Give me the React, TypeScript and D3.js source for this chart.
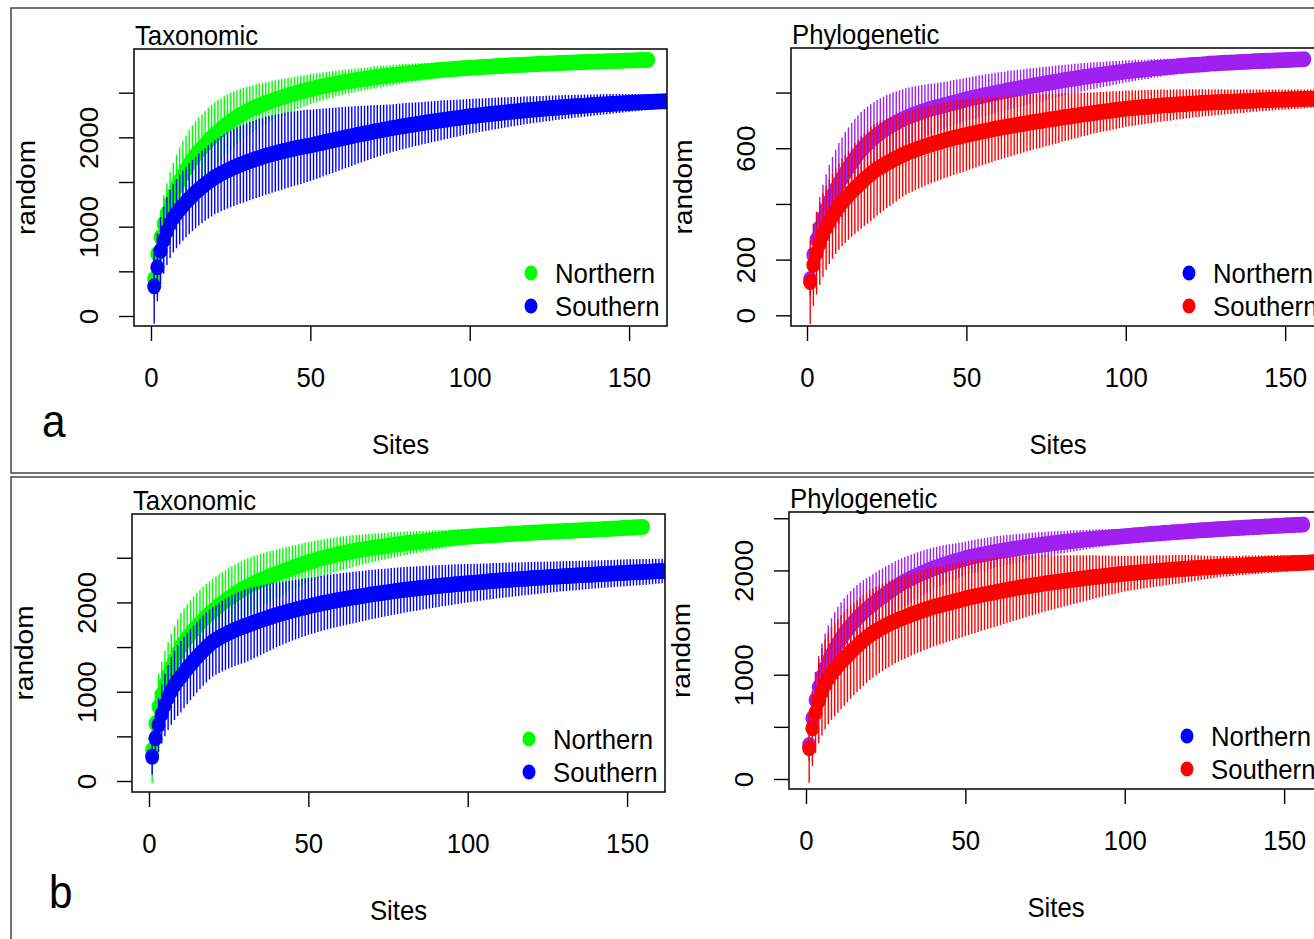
import React, { useEffect, useRef } from 'react';
import * as d3 from 'd3';

// mean richness by number of sites, and the half length of each bar (2 sd)
// panel a, taxonomic
const taxNorthA = [
  414, 694, 881, 1030, 1150, 1260, 1355, 1440, 1515, 1580,
  1642, 1700, 1752, 1800, 1842, 1880, 1921, 1960, 1996, 2030,
  2062, 2093, 2123, 2152, 2180, 2204, 2228, 2250, 2271, 2290,
  2307, 2324, 2340, 2355, 2370, 2384, 2397, 2410, 2423, 2435,
  2446, 2457, 2468, 2479, 2490, 2500, 2510, 2520, 2530, 2540,
  2548, 2556, 2564, 2572, 2580, 2587, 2594, 2601, 2608, 2615,
  2621, 2627, 2633, 2638, 2643, 2648, 2653, 2658, 2664, 2670,
  2675, 2680, 2684, 2689, 2693, 2698, 2702, 2706, 2711, 2715,
  2719, 2722, 2726, 2729, 2733, 2736, 2740, 2743, 2747, 2750,
  2753, 2756, 2759, 2762, 2765, 2768, 2770, 2773, 2775, 2778,
  2780, 2782, 2785, 2787, 2789, 2791, 2793, 2795, 2798, 2800,
  2802, 2804, 2806, 2808, 2810, 2811, 2813, 2815, 2816, 2818,
  2820, 2822, 2823, 2825, 2827, 2828, 2830, 2832, 2833, 2835,
  2836, 2838, 2839, 2840, 2842, 2843, 2844, 2845, 2847, 2848,
  2849, 2850, 2852, 2853, 2854, 2855, 2856, 2857, 2859, 2860,
  2861, 2862, 2863, 2865, 2866, 2867,
];
const taxNorthACi = [
  230, 270, 300, 320, 335, 348, 358, 366, 373, 378,
  380, 381, 381, 380, 379, 377, 374, 371, 368, 364,
  355, 346, 337, 328, 320, 311, 302, 293, 284, 275,
  268, 261, 254, 247, 240, 234, 228, 223, 217, 212,
  207, 202, 197, 192, 188, 184, 180, 176, 172, 168,
  165, 162, 159, 156, 153, 150, 148, 145, 143, 140,
  138, 136, 134, 132, 130, 129, 127, 125, 124, 122,
  121, 119, 118, 116, 115, 114, 112, 111, 110, 108,
  106, 104, 102, 101, 99, 97, 95, 94, 92, 90,
  88, 86, 84, 83, 81, 79, 77, 76, 74, 72,
  71, 70, 68, 67, 66, 65, 64, 62, 61, 60,
  59, 58, 56, 55, 54, 53, 52, 50, 49, 48,
  47, 46, 44, 43, 42, 41, 40, 38, 37, 36,
  35, 34, 32, 31, 30, 29, 28, 26, 25, 24,
  23, 21, 20, 18, 17, 16, 14, 13, 11, 10,
  8, 7, 5, 3, 2, 0,
];
const taxSouthA = [
  332, 545, 731, 850, 950, 1030, 1095, 1145, 1192, 1235,
  1275, 1313, 1349, 1383, 1415, 1445, 1474, 1501, 1527, 1553,
  1573, 1593, 1612, 1630, 1647, 1663, 1679, 1694, 1707, 1720,
  1733, 1746, 1758, 1770, 1782, 1793, 1803, 1813, 1823, 1832,
  1841, 1850, 1859, 1867, 1875, 1883, 1890, 1897, 1904, 1910,
  1918, 1926, 1934, 1942, 1950, 1958, 1966, 1974, 1982, 1990,
  1998, 2006, 2013, 2021, 2028, 2036, 2043, 2050, 2058, 2065,
  2072, 2078, 2085, 2092, 2098, 2105, 2111, 2118, 2124, 2130,
  2136, 2141, 2147, 2152, 2158, 2163, 2169, 2174, 2180, 2185,
  2190, 2195, 2200, 2205, 2210, 2215, 2220, 2225, 2230, 2235,
  2239, 2243, 2247, 2251, 2255, 2259, 2263, 2267, 2271, 2275,
  2279, 2282, 2286, 2289, 2293, 2296, 2300, 2303, 2307, 2310,
  2313, 2316, 2319, 2322, 2325, 2328, 2331, 2334, 2337, 2340,
  2342, 2345, 2347, 2350, 2352, 2355, 2357, 2360, 2362, 2365,
  2367, 2369, 2371, 2373, 2375, 2377, 2379, 2381, 2383, 2385,
  2387, 2389, 2390, 2392, 2394, 2395, 2397, 2399, 2400, 2402, 2403, 2405,
];
const taxSouthACi = [
  420, 380, 375, 376, 378, 381, 384, 387, 390, 392,
  394, 396, 399, 401, 403, 406, 408, 410, 413, 415,
  418, 421, 424, 427, 430, 432, 434, 436, 437, 438,
  438, 438, 438, 438, 438, 437, 436, 434, 432, 430,
  428, 425, 423, 421, 418, 415, 411, 408, 404, 400,
  395, 390, 385, 380, 375, 370, 365, 360, 355, 350,
  344, 339, 333, 328, 322, 317, 311, 306, 300, 295,
  290, 285, 280, 275, 270, 266, 263, 260, 257, 254,
  251, 248, 245, 242, 239, 236, 233, 230, 228, 225,
  222, 219, 216, 213, 210, 207, 204, 201, 198, 195,
  193, 191, 188, 186, 184, 182, 179, 177, 175, 173,
  170, 168, 166, 163, 161, 159, 157, 155, 152, 150,
  148, 147, 145, 143, 142, 140, 138, 137, 135, 134,
  132, 130, 129, 127, 126, 124, 122, 121, 119, 118,
  116, 114, 113, 111, 109, 107, 106, 104, 102, 100,
  98, 97, 95, 93, 92, 90, 88, 87, 85, 83, 82, 80,
];

// panel a, phylogenetic
const phyNorthA = [
  130, 217, 272, 314, 349, 380, 407, 431, 453, 474,
  493, 512, 530, 547, 563, 578, 592, 605, 617, 628,
  638, 647, 656, 664, 672, 679, 686, 692, 698, 704,
  709, 714, 719, 723, 727, 731, 735, 739, 742, 745,
  748, 751, 754, 757, 760, 763, 766, 769, 772, 775,
  778, 781, 783, 786, 788, 791, 793, 796, 798, 801,
  803, 805, 808, 810, 812, 814, 816, 818, 821, 823,
  825, 827, 829, 831, 833, 835, 837, 839, 841, 843,
  845, 847, 849, 850, 852, 854, 856, 857, 859, 861,
  862, 864, 865, 867, 868, 870, 871, 873, 874, 876,
  877, 878, 880, 881, 882, 883, 884, 886, 887, 888,
  889, 890, 891, 892, 893, 894, 895, 896, 897, 898,
  899, 900, 900, 901, 902, 903, 904, 904, 905, 906,
  907, 907, 908, 908, 909, 910, 910, 911, 911, 912,
  912, 913, 913, 914, 914, 915, 915, 916, 916, 917,
  917, 918, 918, 919, 919, 920,
];
const phyNorthACi = [
  60, 85, 100, 112, 120, 127, 133, 138, 142, 145,
  146, 146, 145, 144, 142, 140, 138, 136, 133, 130,
  128, 126, 123, 121, 119, 117, 115, 112, 110, 108,
  106, 104, 102, 100, 98, 96, 94, 92, 90, 88,
  87, 86, 85, 84, 83, 82, 81, 80, 79, 78,
  77, 77, 76, 76, 75, 75, 74, 73, 73, 72,
  71, 70, 70, 69, 68, 67, 66, 66, 65, 64,
  63, 62, 62, 61, 60, 59, 58, 58, 57, 56,
  55, 54, 53, 53, 52, 51, 50, 49, 48, 48,
  47, 46, 45, 45, 44, 43, 42, 41, 41, 40,
  39, 38, 38, 37, 36, 35, 35, 34, 33, 32,
  32, 31, 30, 30, 29, 28, 27, 27, 26, 25,
  25, 24, 23, 23, 22, 21, 20, 20, 19, 18,
  18, 17, 16, 15, 15, 14, 13, 13, 12, 11,
  10, 10, 9, 8, 7, 7, 6, 5, 4, 3,
  3, 2, 2, 1, 1, 0,
];
const phySouthA = [
  119, 181, 223, 258, 288, 314, 336, 356, 374, 390,
  405, 418, 431, 443, 455, 466, 477, 488, 498, 508,
  517, 525, 532, 539, 546, 552, 558, 564, 570, 576,
  581, 586, 590, 595, 599, 603, 607, 611, 614, 618,
  621, 624, 628, 631, 634, 637, 640, 642, 645, 648,
  650, 653, 655, 658, 660, 662, 665, 667, 670, 672,
  674, 676, 678, 680, 682, 684, 686, 688, 690, 692,
  694, 696, 697, 699, 701, 703, 704, 706, 708, 710,
  712, 713, 715, 717, 718, 720, 722, 723, 725, 727,
  728, 730, 731, 733, 734, 736, 737, 739, 740, 742,
  743, 744, 745, 746, 747, 748, 749, 750, 751, 752,
  753, 754, 754, 755, 756, 757, 758, 758, 759, 760,
  761, 761, 762, 763, 763, 764, 764, 765, 765, 766,
  766, 767, 767, 768, 768, 769, 769, 770, 770, 771,
  771, 772, 772, 772, 773, 773, 774, 774, 774, 775,
  775, 776, 776, 776, 777, 777, 778, 778, 778, 779,
];
const phySouthACi = [
  150, 148, 148, 149, 150, 151, 152, 153, 154, 155,
  157, 158, 160, 161, 163, 164, 166, 167, 169, 170,
  169, 167, 165, 163, 161, 159, 157, 155, 152, 150,
  148, 147, 146, 145, 144, 143, 142, 141, 140, 139,
  138, 137, 136, 135, 134, 133, 132, 131, 130, 129,
  127, 126, 124, 123, 121, 120, 118, 117, 115, 114,
  113, 111, 110, 109, 107, 106, 105, 103, 102, 101,
  99, 98, 97, 95, 94, 93, 91, 90, 89, 87,
  86, 85, 83, 82, 81, 79, 78, 77, 75, 74,
  73, 72, 71, 71, 70, 69, 68, 67, 66, 65,
  64, 64, 63, 62, 62, 61, 60, 60, 59, 58,
  58, 57, 56, 56, 55, 54, 54, 53, 52, 52,
  51, 50, 50, 49, 48, 48, 47, 47, 46, 46,
  45, 44, 44, 43, 43, 42, 42, 41, 41, 40,
  40, 39, 39, 38, 38, 38, 37, 37, 36, 36,
  36, 35, 35, 35, 34, 34, 34, 33, 33, 33,
];

// panel b, taxonomic
const taxNorthB = [
  347, 646, 832, 970, 1085, 1185, 1275, 1357, 1433, 1504,
  1553, 1600, 1645, 1688, 1729, 1768, 1805, 1840, 1873, 1904,
  1934, 1963, 1991, 2018, 2044, 2069, 2093, 2116, 2138, 2160,
  2179, 2197, 2214, 2231, 2247, 2263, 2278, 2293, 2307, 2320,
  2334, 2348, 2361, 2374, 2387, 2400, 2413, 2426, 2438, 2450,
  2461, 2471, 2481, 2491, 2501, 2510, 2519, 2528, 2537, 2545,
  2553, 2560, 2567, 2574, 2581, 2587, 2593, 2599, 2605, 2610,
  2615, 2620, 2625, 2630, 2635, 2640, 2645, 2650, 2655, 2660,
  2664, 2668, 2672, 2676, 2680, 2684, 2688, 2692, 2696, 2700,
  2704, 2708, 2712, 2716, 2720, 2723, 2726, 2729, 2732, 2735,
  2737, 2740, 2742, 2745, 2747, 2749, 2752, 2754, 2756, 2758,
  2760, 2762, 2765, 2767, 2769, 2771, 2773, 2776, 2778, 2780,
  2782, 2784, 2786, 2787, 2789, 2791, 2793, 2794, 2796, 2798,
  2800, 2801, 2803, 2805, 2806, 2808, 2810, 2811, 2813, 2815,
  2817, 2819, 2821, 2823, 2825, 2827, 2829, 2831, 2833, 2835,
  2837, 2839, 2841, 2843, 2845,
];
const taxNorthBCi = [
  370, 365, 365, 368, 370, 372, 374, 376, 378, 380,
  380, 379, 378, 377, 375, 373, 370, 367, 364, 360,
  356, 352, 348, 344, 340, 336, 332, 328, 324, 320,
  315, 310, 306, 301, 296, 291, 287, 282, 277, 272,
  268, 263, 258, 253, 249, 244, 239, 234, 230, 225,
  221, 218, 214, 211, 207, 204, 200, 197, 193, 190,
  187, 184, 181, 178, 175, 172, 169, 166, 163, 160,
  157, 155, 152, 150, 147, 145, 142, 140, 137, 135,
  132, 129, 127, 124, 121, 118, 115, 113, 110, 107,
  105, 102, 100, 98, 96, 94, 92, 90, 87, 85,
  83, 82, 80, 78, 77, 75, 73, 72, 70, 68,
  67, 65, 63, 62, 60, 58, 57, 55, 53, 52,
  50, 48, 47, 45, 43, 42, 40, 38, 37, 35,
  33, 32, 30, 28, 27, 25, 23, 22, 20, 18,
  17, 16, 15, 13, 12, 11, 10, 8, 7, 6,
  5, 4, 2, 1, 0,
];
const taxSouthB = [
  272, 478, 627, 750, 850, 935, 1008, 1071, 1123, 1168,
  1215, 1260, 1303, 1344, 1384, 1423, 1460, 1495, 1528, 1560,
  1582, 1603, 1623, 1642, 1660, 1677, 1693, 1708, 1722, 1735,
  1748, 1761, 1774, 1787, 1800, 1812, 1824, 1836, 1848, 1860,
  1870, 1880, 1890, 1900, 1910, 1919, 1928, 1937, 1946, 1955,
  1963, 1971, 1979, 1987, 1995, 2002, 2009, 2016, 2023, 2030,
  2036, 2042, 2048, 2054, 2060, 2066, 2072, 2078, 2084, 2090,
  2095, 2100, 2105, 2110, 2115, 2120, 2125, 2130, 2135, 2140,
  2144, 2148, 2152, 2156, 2160, 2164, 2168, 2172, 2176, 2180,
  2184, 2188, 2191, 2195, 2198, 2202, 2205, 2209, 2212, 2215,
  2218, 2221, 2224, 2227, 2230, 2233, 2236, 2239, 2242, 2245,
  2248, 2250, 2253, 2255, 2258, 2260, 2263, 2265, 2268, 2270,
  2272, 2275, 2277, 2279, 2281, 2284, 2286, 2288, 2291, 2293,
  2295, 2297, 2299, 2301, 2303, 2305, 2307, 2309, 2311, 2313,
  2315, 2317, 2319, 2321, 2323, 2325, 2327, 2329, 2330, 2332,
  2334, 2336, 2337, 2339, 2341, 2343, 2344, 2346, 2348, 2349, 2351, 2352,
];
const taxSouthBCi = [
  200, 260, 300, 330, 350, 365, 378, 388, 395, 400,
  400, 399, 398, 396, 395, 394, 393, 392, 391, 390,
  392, 394, 396, 398, 400, 402, 404, 406, 408, 410,
  407, 403, 399, 395, 390, 385, 380, 374, 368, 362,
  357, 352, 347, 342, 337, 333, 329, 325, 321, 318,
  315, 313, 311, 309, 307, 305, 303, 301, 299, 297,
  295, 293, 291, 289, 287, 284, 282, 280, 278, 276,
  274, 272, 270, 268, 266, 264, 262, 260, 258, 256,
  254, 252, 250, 248, 246, 244, 242, 240, 238, 236,
  234, 232, 230, 228, 226, 224, 222, 220, 217, 215,
  213, 211, 210, 208, 206, 204, 203, 201, 199, 197,
  196, 194, 193, 191, 190, 188, 187, 185, 184, 182,
  181, 180, 178, 177, 176, 174, 173, 172, 170, 169,
  168, 167, 165, 164, 163, 162, 160, 159, 158, 157,
  156, 155, 154, 153, 153, 152, 152, 151, 151, 150,
  149, 148, 147, 146, 145, 144, 143, 142, 140, 139, 137, 135,
];

// panel b, phylogenetic
const phyNorthB = [
  326, 582, 757, 880, 980, 1062, 1132, 1193, 1250, 1301,
  1347, 1390, 1430, 1468, 1504, 1538, 1570, 1599, 1626, 1652,
  1678, 1703, 1727, 1750, 1773, 1795, 1816, 1837, 1857, 1876,
  1893, 1909, 1924, 1939, 1953, 1967, 1981, 1994, 2007, 2020,
  2031, 2041, 2051, 2061, 2071, 2080, 2089, 2098, 2107, 2116,
  2123, 2130, 2137, 2144, 2150, 2156, 2162, 2168, 2174, 2180,
  2185, 2190, 2195, 2200, 2205, 2210, 2215, 2220, 2225, 2230,
  2234, 2238, 2242, 2246, 2250, 2254, 2258, 2262, 2266, 2270,
  2273, 2277, 2280, 2283, 2286, 2290, 2293, 2296, 2299, 2302,
  2305, 2307, 2310, 2312, 2315, 2318, 2320, 2323, 2325, 2328,
  2331, 2333, 2336, 2338, 2341, 2343, 2346, 2348, 2351, 2353,
  2355, 2358, 2360, 2362, 2365, 2367, 2369, 2371, 2374, 2376,
  2378, 2380, 2382, 2384, 2386, 2388, 2390, 2392, 2394, 2396,
  2398, 2400, 2402, 2404, 2405, 2407, 2409, 2411, 2412, 2414,
  2416, 2417, 2419, 2421, 2422, 2424, 2426, 2427, 2429, 2430,
  2432, 2434, 2435, 2437, 2438, 2440,
];
const phyNorthBCi = [
  150, 220, 270, 300, 320, 333, 342, 347, 350, 350,
  347, 343, 338, 333, 327, 321, 314, 307, 299, 290,
  285, 280, 275, 270, 265, 260, 255, 250, 245, 240,
  236, 232, 228, 224, 220, 216, 212, 208, 204, 200,
  196, 192, 188, 184, 180, 176, 172, 168, 164, 160,
  159, 158, 157, 156, 155, 154, 153, 152, 151, 150,
  148, 146, 144, 142, 140, 138, 136, 134, 132, 130,
  128, 126, 124, 122, 120, 118, 116, 114, 112, 110,
  108, 106, 104, 102, 100, 98, 96, 94, 92, 90,
  88, 86, 84, 82, 80, 78, 76, 74, 72, 70,
  69, 67, 66, 65, 63, 62, 61, 59, 58, 57,
  55, 54, 53, 51, 50, 49, 47, 46, 45, 43,
  42, 41, 39, 38, 37, 35, 34, 33, 31, 30,
  29, 27, 26, 25, 23, 22, 21, 19, 18, 17,
  15, 14, 13, 11, 10, 9, 7, 6, 5, 4,
  3, 2, 2, 1, 1, 0,
];
const phySouthB = [
  294, 486, 635, 748, 836, 906, 963, 1011, 1050, 1085,
  1119, 1152, 1184, 1215, 1245, 1274, 1302, 1329, 1355, 1380,
  1400, 1419, 1437, 1454, 1470, 1486, 1501, 1515, 1528, 1540,
  1552, 1564, 1576, 1587, 1598, 1609, 1620, 1630, 1640, 1650,
  1658, 1666, 1674, 1682, 1690, 1698, 1706, 1714, 1722, 1730,
  1737, 1744, 1751, 1758, 1765, 1771, 1777, 1783, 1789, 1795,
  1801, 1807, 1813, 1819, 1825, 1830, 1835, 1840, 1845, 1850,
  1855, 1860, 1865, 1870, 1875, 1879, 1883, 1887, 1891, 1895,
  1899, 1903, 1907, 1911, 1915, 1919, 1923, 1927, 1931, 1935,
  1939, 1942, 1945, 1949, 1952, 1955, 1958, 1962, 1965, 1968,
  1971, 1974, 1976, 1979, 1982, 1984, 1987, 1990, 1992, 1995,
  1997, 2000, 2002, 2004, 2007, 2009, 2011, 2013, 2016, 2018,
  2020, 2022, 2024, 2026, 2028, 2029, 2031, 2033, 2035, 2037,
  2039, 2040, 2042, 2043, 2045, 2047, 2048, 2050, 2051, 2053,
  2054, 2056, 2057, 2058, 2060, 2061, 2062, 2063, 2065, 2066,
  2067, 2068, 2070, 2071, 2072, 2073, 2074, 2076, 2077, 2078,
];
const phySouthBCi = [
  330, 360, 385, 405, 420, 430, 438, 444, 448, 450,
  450, 449, 447, 445, 443, 441, 439, 436, 433, 430,
  427, 424, 421, 418, 415, 412, 409, 406, 403, 400,
  398, 396, 394, 392, 390, 388, 386, 384, 382, 380,
  378, 376, 374, 372, 370, 368, 366, 364, 362, 360,
  357, 354, 351, 348, 345, 342, 339, 336, 333, 330,
  326, 322, 318, 314, 310, 306, 302, 298, 294, 290,
  286, 282, 278, 274, 270, 266, 262, 258, 254, 250,
  246, 242, 238, 234, 230, 226, 222, 218, 214, 210,
  206, 202, 198, 194, 190, 186, 182, 178, 174, 170,
  168, 166, 164, 162, 160, 158, 156, 154, 152, 150,
  148, 146, 144, 142, 140, 138, 136, 134, 132, 130,
  127, 124, 121, 118, 115, 112, 109, 106, 103, 100,
  99, 98, 97, 96, 95, 94, 93, 92, 91, 90,
  89, 88, 87, 86, 85, 84, 83, 82, 81, 80,
  79, 78, 77, 76, 75, 74, 73, 72, 71, 70,
];

const groups = ['Northern', 'Southern'];
const xTicks = [0, 50, 100, 150];
const taxTicks = [0, 500, 1000, 1500, 2000, 2500];
const taxTickLabels = ['0', '', '1000', '', '2000', ''];
const phyTicksA = [0, 200, 400, 600, 800];
const phyTickLabelsA = ['0', '200', '', '600', ''];
const phyTicksB = [0, 500, 1000, 1500, 2000, 2500];
const phyTickLabelsB = ['0', '', '1000', '', '2000', ''];

const GREEN = '#00ff00';
const BLUE = '#0000ff';
const PURPLE = '#a020f0';
const RED = '#ff0000';
const FONT = '"Liberation Sans", Arial, Helvetica, sans-serif';
const FS = 28;
const SQ = 0.92; // the figure is a little narrower than tall

const panels = [
  {
    id: 'ta', title: 'Taxonomic', box: [134, 49, 667, 326], xDom: [-5.33, 161.9], yDom: [-112, 2989],
    yTicks: taxTicks, yLabels: taxTickLabels,
    series: [
      { mean: taxNorthA, ci: taxNorthACi, color: GREEN },
      { mean: taxSouthA, ci: taxSouthACi, color: BLUE },
    ],
    legend: [GREEN, BLUE],
  },
  {
    id: 'pa', title: 'Phylogenetic', box: [791, 48, 1325, 326], xDom: [-5.02, 162.5], yDom: [-38.4, 960],
    yTicks: phyTicksA, yLabels: phyTickLabelsA,
    series: [
      { mean: phyNorthA, ci: phyNorthACi, color: PURPLE },
      { mean: phySouthA, ci: phySouthACi, color: RED },
    ],
    legend: [BLUE, RED],
  },
  {
    id: 'tb', title: 'Taxonomic', box: [132, 514, 665, 792], xDom: [-5.33, 161.9], yDom: [-123, 2990],
    yTicks: taxTicks, yLabels: taxTickLabels,
    series: [
      { mean: taxNorthB, ci: taxNorthBCi, color: GREEN },
      { mean: taxSouthB, ci: taxSouthBCi, color: BLUE },
    ],
    legend: [GREEN, BLUE],
  },
  {
    id: 'pb', title: 'Phylogenetic', box: [789, 512, 1323, 789], xDom: [-5.33, 162.2], yDom: [-96, 2560],
    yTicks: phyTicksB, yLabels: phyTickLabelsB,
    series: [
      { mean: phyNorthB, ci: phyNorthBCi, color: PURPLE },
      { mean: phySouthB, ci: phySouthBCi, color: RED },
    ],
    legend: [BLUE, RED],
  },
];

const App = () => {
  const svgRef = useRef<SVGSVGElement>(null);

  useEffect(() => {
    const svg = d3.select(svgRef.current);
    svg.selectAll('*').remove();

    svg.append('rect').attr('width', 1314).attr('height', 939).attr('fill', '#fff');

    const label = (parent, x, y, txt, opts = {}) => {
      const t = parent.append('text')
        .attr('transform', `translate(${x},${y}) scale(${SQ},1)${opts.rotate ? ' rotate(-90)' : ''}`)
        .attr('font-family', FONT).attr('font-size', opts.size || FS)
        .attr('text-anchor', opts.anchor || 'start')
        .text(txt);
      return t;
    };

    // the two outer frames (a, b)
    svg.append('rect').attr('x', 11).attr('y', 8).attr('width', 1330).attr('height', 465)
      .attr('fill', 'none').attr('stroke', '#444').attr('stroke-width', 1.5);
    svg.append('rect').attr('x', 11).attr('y', 477).attr('width', 1330).attr('height', 480)
      .attr('fill', 'none').attr('stroke', '#444').attr('stroke-width', 1.5);

    panels.forEach((p) => {
      const [left, top, right, bottom] = p.box;
      const x = d3.scaleLinear().domain(p.xDom).range([left, right]);
      const y = d3.scaleLinear().domain(p.yDom).range([bottom, top]);
      const g = svg.append('g');

      svg.append('clipPath').attr('id', `clip-${p.id}`)
        .append('rect').attr('x', left).attr('y', top).attr('width', right - left).attr('height', bottom - top);

      const plot = g.append('g').attr('clip-path', `url(#clip-${p.id})`);

      p.series.forEach((s) => {
        const pts = s.mean.map((m, i) => ({ site: i + 1, m, ci: s.ci[i] }));
        plot.append('g').selectAll('line').data(pts).enter().append('line')
          .attr('x1', (d) => x(d.site)).attr('x2', (d) => x(d.site))
          .attr('y1', (d) => y(d.m - d.ci)).attr('y2', (d) => y(d.m + d.ci))
          .attr('stroke', s.color).attr('stroke-width', 1.4);
        plot.append('g').selectAll('ellipse').data(pts).enter().append('ellipse')
          .attr('cx', (d) => x(d.site)).attr('cy', (d) => y(d.m)).attr('rx', 7).attr('ry', 8)
          .attr('fill', s.color);
      });

      // axes
      const xAxis = g.append('g').attr('transform', `translate(0,${bottom})`)
        .call(d3.axisBottom(x).tickValues(xTicks).tickSize(15).tickSizeOuter(0));
      const yAxis = g.append('g').attr('transform', `translate(${left},0)`)
        .call(d3.axisLeft(y).tickValues(p.yTicks).tickSize(15).tickSizeOuter(0)
          .tickFormat((d, i) => p.yLabels[i]));
      [xAxis, yAxis].forEach((a) => {
        a.attr('font-family', FONT).attr('font-size', FS);
        a.selectAll('line').attr('stroke', '#000').attr('stroke-width', 1.4);
        a.selectAll('text').attr('fill', '#000').attr('x', null).attr('y', null).attr('dy', null)
          .attr('text-anchor', 'middle');
        a.select('.domain').remove();
      });
      xAxis.selectAll('text').attr('transform', `translate(0,61) scale(${SQ},1)`);
      yAxis.selectAll('text').attr('transform', `translate(-36,0) scale(${SQ},1) rotate(-90)`);

      g.append('rect').attr('x', left).attr('y', top).attr('width', right - left).attr('height', bottom - top)
        .attr('fill', 'none').attr('stroke', '#111').attr('stroke-width', 1.6);

      // titles and axis names
      label(g, left + 1, top - 4, p.title);
      label(g, (left + right) / 2, bottom + 128, 'Sites', { anchor: 'middle' });
      label(g, left - 99, (top + bottom) / 2, 'random', { anchor: 'middle', rotate: true });

      // legend, bottom right of the box
      const lg = g.append('g');
      groups.forEach((name, i) => {
        const base = bottom - 10 - (1 - i) * 33;
        lg.append('ellipse').attr('cx', right - 136).attr('cy', base - 10).attr('rx', 6.5).attr('ry', 7.5)
          .attr('fill', p.legend[i]);
        label(lg, right - 112, base, name);
      });
    });

    label(svg, 42, 437, 'a', { size: 46 });
    label(svg, 49, 908, 'b', { size: 46 });
  }, []);

  return (
    <svg ref={svgRef} width={1314} height={939} style={{ position: 'absolute', left: 0, top: 0 }} />
  );
};

export default App;
